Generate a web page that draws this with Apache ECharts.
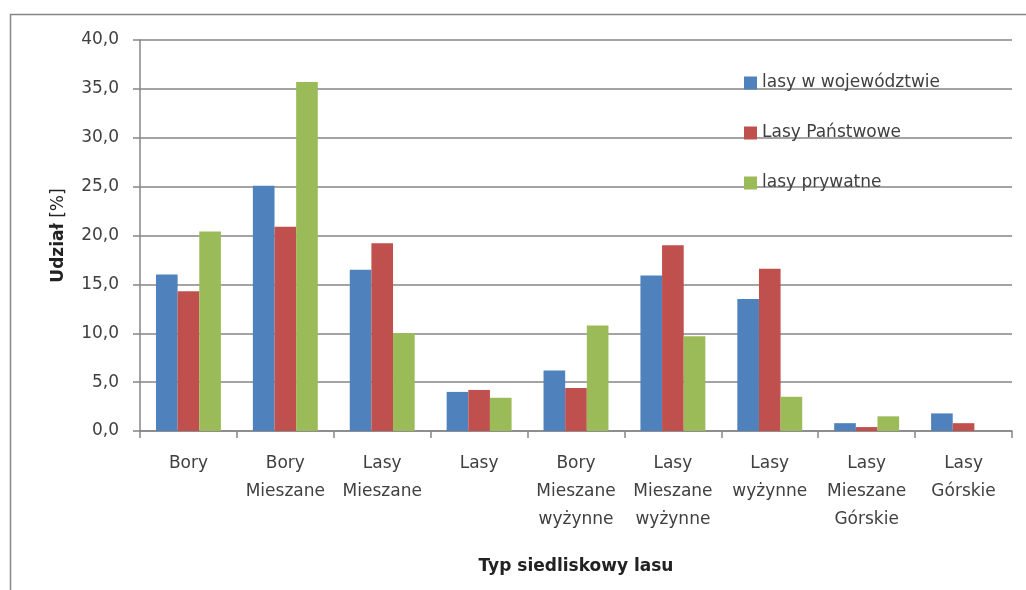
<!DOCTYPE html>
<html>
<head>
<meta charset="utf-8">
<script src="https://cdn.jsdelivr.net/npm/echarts@6/dist/echarts.min.js"></script>
<style>
  html, body { margin: 0; padding: 0; background: #fff; }
  #container { width: 1026px; height: 590px; }
</style>
</head>
<body>
<div id="container"></div>
<script>
var dom = document.getElementById("container");
var myChart = echarts.init(dom);

var categories = ['Bory', 'Bory\nMieszane', 'Lasy\nMieszane', 'Lasy', 'Bory\nMieszane\nwyżynne',
    'Lasy\nMieszane\nwyżynne', 'Lasy\nwyżynne', 'Lasy\nMieszane\nGórskie', 'Lasy\nGórskie'];
var lasyWojewodztwo = [16.0, 25.1, 16.5, 4.0, 6.2, 15.9, 13.5, 0.8, 1.8];
var lasyPanstwowe = [14.3, 20.9, 19.2, 4.2, 4.4, 19.0, 16.6, 0.4, 0.8];
var lasyPrywatne = [20.4, 35.7, 10.0, 3.4, 10.8, 9.7, 3.5, 1.5, 0];
var seriesNames = ['lasy w województwie', 'Lasy Państwowe', 'lasy prywatne'];

var font = 'DejaVu Sans';
var gray = '#868686';
var textColor = '#404040';

var option = {
    animation: false,
    color: ['#4F81BD', '#C0504D', '#9BBB59'],
    textStyle: { fontFamily: font },
    graphic: [{
        type: 'rect',
        shape: { x: 10.5, y: 14.5, width: 1030, height: 600 },
        style: { fill: 'none', stroke: gray, lineWidth: 1.5 }
    }],
    legend: {
        orient: 'vertical',
        left: 739,
        top: 68,
        itemWidth: 13,
        itemHeight: 13,
        itemGap: 30,
        icon: 'rect',
        textStyle: { fontFamily: font, fontSize: 17, color: textColor, lineHeight: 20 },
        data: seriesNames
    },
    grid: { left: 140, right: 14, top: 40, bottom: 159 },
    xAxis: {
        type: 'category',
        data: categories,
        name: 'Typ siedliskowy lasu',
        nameLocation: 'middle',
        nameGap: 127,
        nameTextStyle: { fontFamily: font, fontSize: 17, fontWeight: 'bold', color: '#222' },
        axisLine: { lineStyle: { color: gray, width: 1.5 } },
        axisTick: { show: true, length: 7, lineStyle: { color: gray, width: 1.5 } },
        axisLabel: { fontFamily: font, fontSize: 17, color: textColor, lineHeight: 28, margin: 19, interval: 0 }
    },
    yAxis: {
        type: 'value',
        min: 0,
        max: 40,
        interval: 5,
        name: '{b|Udział} [%]',
        nameLocation: 'middle',
        nameGap: 73,
        nameRotate: 90,
        nameTextStyle: {
            fontFamily: font, fontSize: 17, color: '#222',
            rich: { b: { fontFamily: font, fontSize: 17, fontWeight: 'bold', color: '#222' } }
        },
        axisLine: { show: true, lineStyle: { color: gray, width: 1.5 } },
        axisTick: { show: true, length: 7, lineStyle: { color: gray, width: 1.5 } },
        axisLabel: {
            fontFamily: font, fontSize: 17, color: textColor, margin: 21,
            formatter: function (v) { return v.toFixed(1).replace('.', ','); }
        },
        splitLine: { lineStyle: { color: gray, width: 1.5 } }
    },
    series: [
        { name: seriesNames[0], type: 'bar', data: lasyWojewodztwo, barGap: '0%', barCategoryGap: '33%' },
        { name: seriesNames[1], type: 'bar', data: lasyPanstwowe, barGap: '0%', barCategoryGap: '33%' },
        { name: seriesNames[2], type: 'bar', data: lasyPrywatne, barGap: '0%', barCategoryGap: '33%' }
    ]
};

myChart.setOption(option, true);
</script>
</body>
</html>
